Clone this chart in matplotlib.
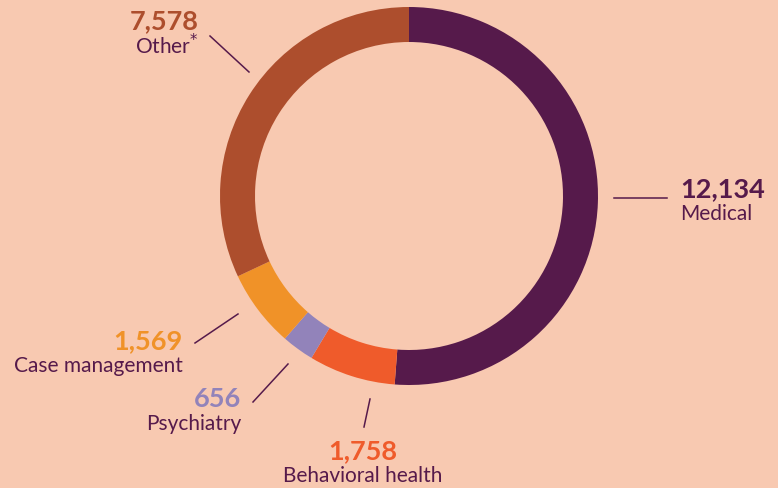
"""Donut chart of encounters by service type."""

import matplotlib.pyplot as plt

categories = ["Medical", "Behavioral health", "Psychiatry", "Case management", "Other"]
values = [12134, 1758, 656, 1569, 7578]
value_labels = ["12,134", "1,758", "656", "1,569", "7,578"]
display_names = ["Medical", "Behavioral health", "Psychiatry", "Case management", "Other$^{*}$"]

colors = ["#561a4b", "#ef5b2b", "#9283ba", "#f09228", "#ad4e2d"]
bg = "#f8c9b1"
ink = "#561a4b"

W, H = 778, 488
fig = plt.figure(figsize=(W / 100, H / 100), dpi=100, facecolor=bg)
ax = fig.add_axes([0, 0, 1, 1])
ax.set_facecolor(bg)

# center and radius in pixel coordinates (y down), pie drawn on a flipped axis
cx, cy, r = 409, 196, 189
ax.pie(values, colors=colors, startangle=-90, counterclock=True,
       center=(cx, cy), radius=r, wedgeprops=dict(width=35, linewidth=0),
       frame=True)
ax.set_xlim(0, W)
ax.set_ylim(H, 0)
ax.set_aspect("equal")
ax.axis("off")

# label layout: (number anchor x, y), alignment, leader line start, leader end
layout = {
    "Medical": ((680, 189), "left", (614, 198), (667, 198)),
    "Behavioral health": ((363, 451), "center", (370, 399), (364, 427)),
    "Psychiatry": ((241, 399), "right", (253, 402), (288, 364)),
    "Case management": ((183, 341), "right", (195, 343), (238, 314)),
    "Other": ((199, 21), "right", (210, 36), (249, 72)),
}

for name, disp, val, col in zip(categories, display_names, value_labels, colors):
    (tx, ty), ha, p0, p1 = layout[name]
    ax.plot([p0[0], p1[0]], [p0[1], p1[1]], color=ink, lw=1.1)
    ax.text(tx, ty, val, color=col, fontsize=19.5, fontweight="bold",
            ha=ha, va="center", family="Lato")
    ax.text(tx, ty + 25, disp, color=ink, fontsize=15,
            ha=ha, va="center", family="Lato")

fig.savefig("out.png", dpi=100, facecolor=bg)
